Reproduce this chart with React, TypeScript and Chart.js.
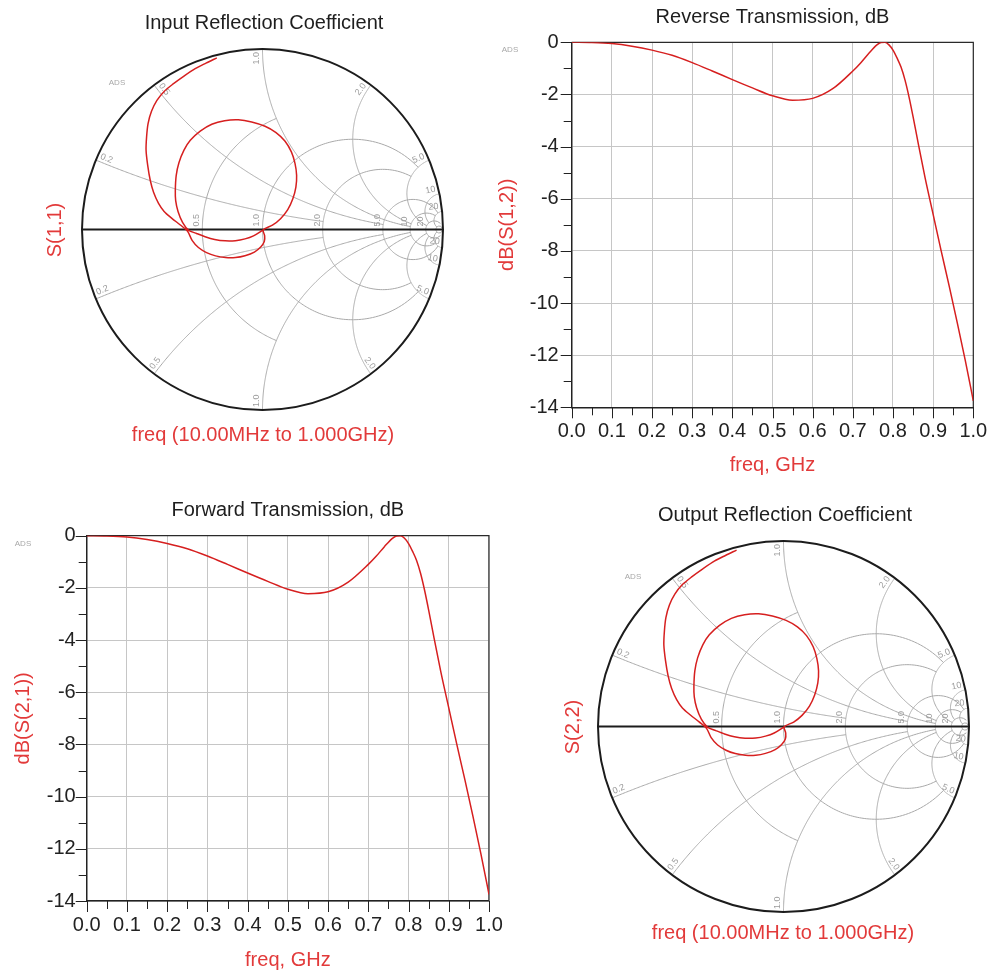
import React, { useEffect, useRef } from 'react';
import { Chart, registerables } from 'chart.js';

Chart.register(...registerables);

const FONT = '"Liberation Sans", Arial, sans-serif';
const RED_LINE = '#d61f1f';
const RED_TEXT = '#e23a3a';

// ---------------- data ----------------
const freqGHz = [0, 0.05, 0.1, 0.15, 0.2, 0.25, 0.3, 0.35, 0.4, 0.45, 0.5, 0.55, 0.6, 0.65, 0.7,
  0.72, 0.74, 0.76, 0.77, 0.78, 0.79, 0.8, 0.81, 0.82, 0.83, 0.84, 0.85, 0.86,
  0.88, 0.9, 0.92, 0.94, 0.96, 0.98, 1.0];

const s12dB = [0, -0.01, -0.05, -0.15, -0.3, -0.5, -0.78, -1.1, -1.43, -1.75, -2.05, -2.22, -2.15, -1.78, -1.1,
  -0.78, -0.42, -0.1, -0.01, 0, -0.1, -0.3, -0.6, -0.95, -1.45, -2.1, -2.85, -3.65,
  -5.2, -6.6, -8.0, -9.35, -10.75, -12.2, -13.75];

const s21dB = [0, -0.01, -0.05, -0.15, -0.3, -0.5, -0.78, -1.1, -1.43, -1.75, -2.05, -2.22, -2.15, -1.78, -1.1,
  -0.78, -0.42, -0.1, -0.01, 0, -0.1, -0.3, -0.6, -0.95, -1.45, -2.1, -2.85, -3.65,
  -5.2, -6.6, -8.0, -9.35, -10.75, -12.2, -13.75];

// reflection coefficient traces (real, imaginary), 10 MHz -> 1 GHz
const s11Re = [0.004, -0.05, -0.097, -0.15, -0.207, -0.265, -0.318, -0.365, -0.41, -0.443, -0.468, -0.481, -0.483, -0.478, -0.463, -0.435, -0.4, -0.345, -0.281, -0.21, -0.134, -0.06, 0.014, 0.075, 0.124, 0.16, 0.18, 0.189, 0.185, 0.168, 0.14, 0.1, 0.055, 0.004,
  0.012, 0.01, -0.01, -0.045, -0.097, -0.15, -0.205, -0.26, -0.31, -0.355, -0.39, -0.415,
  -0.455, -0.502, -0.545, -0.576, -0.603, -0.622, -0.636, -0.645, -0.642, -0.634, -0.615, -0.585, -0.545, -0.493, -0.435, -0.373, -0.313, -0.253];
const s11Im = [-0.002, -0.035, -0.052, -0.062, -0.063, -0.055, -0.04, -0.022, -0.003, 0.04, 0.1, 0.16, 0.218, 0.3, 0.37, 0.44, 0.494, 0.545, 0.583, 0.603, 0.608, 0.596, 0.572, 0.537, 0.49, 0.43, 0.366, 0.3, 0.235, 0.17, 0.11, 0.06, 0.024, -0.002,
  -0.035, -0.067, -0.097, -0.125, -0.145, -0.155, -0.155, -0.146, -0.128, -0.1, -0.06, -0.01,
  0.025, 0.062, 0.1, 0.145, 0.205, 0.273, 0.355, 0.439, 0.515, 0.587, 0.655, 0.715, 0.765, 0.808, 0.85, 0.891, 0.922, 0.951];

const s22Re = [0.004, -0.05, -0.097, -0.15, -0.207, -0.265, -0.318, -0.365, -0.41, -0.443, -0.468, -0.481, -0.483, -0.478, -0.463, -0.435, -0.4, -0.345, -0.281, -0.21, -0.134, -0.06, 0.014, 0.075, 0.124, 0.16, 0.18, 0.189, 0.185, 0.168, 0.14, 0.1, 0.055, 0.004,
  0.012, 0.01, -0.01, -0.045, -0.097, -0.15, -0.205, -0.26, -0.31, -0.355, -0.39, -0.415,
  -0.455, -0.502, -0.545, -0.576, -0.603, -0.622, -0.636, -0.645, -0.642, -0.634, -0.615, -0.585, -0.545, -0.493, -0.435, -0.373, -0.313, -0.253];
const s22Im = [-0.002, -0.035, -0.052, -0.062, -0.063, -0.055, -0.04, -0.022, -0.003, 0.04, 0.1, 0.16, 0.218, 0.3, 0.37, 0.44, 0.494, 0.545, 0.583, 0.603, 0.608, 0.596, 0.572, 0.537, 0.49, 0.43, 0.366, 0.3, 0.235, 0.17, 0.11, 0.06, 0.024, -0.002,
  -0.035, -0.067, -0.097, -0.125, -0.145, -0.155, -0.155, -0.146, -0.128, -0.1, -0.06, -0.01,
  0.025, 0.062, 0.1, 0.145, 0.205, 0.273, 0.355, 0.439, 0.515, 0.587, 0.655, 0.715, 0.765, 0.808, 0.85, 0.891, 0.922, 0.951];

const xTickValues = [0, 0.1, 0.2, 0.3, 0.4, 0.5, 0.6, 0.7, 0.8, 0.9, 1.0];
const xTickLabels = ['0.0', '0.1', '0.2', '0.3', '0.4', '0.5', '0.6', '0.7', '0.8', '0.9', '1.0'];
const yTickValues = [-14, -12, -10, -8, -6, -4, -2, 0];
const yTickLabels = ['-14', '-12', '-10', '-8', '-6', '-4', '-2', '0'];

// Smith chart grid: [value, clip limit]
const smithRCircles = [[0.5, 1], [1, 5], [2, 5], [5, 20], [10, 20], [20, 50], [50, Infinity]];
const smithXArcs = [[0.2, 2], [0.5, 5], [1, 10], [2, 10], [5, 20], [10, 20], [20, 50]];
const smithRLabels = [[0.5, '0.5'], [1, '1.0'], [2, '2.0'], [5, '5.0'], [10, '10'], [20, '20']];
const smithXLabels = [[0.2, '0.2'], [0.5, '0.5'], [1, '1.0'], [2, '2.0'], [5, '5.0'], [10, '10'], [20, '20']];

// ---------------- helpers ----------------
function gam(r: number, x: number) {
  const d = (r + 1) * (r + 1) + x * x;
  return [(r * r + x * x - 1) / d, (2 * x) / d];
}

function rectConfig(o: any) {
  const area = o.area;
  const yScaleLeft = o.yTitleX - 12;
  const yScaleWidth = area.l - yScaleLeft;
  const xScaleBottom = o.xTitleY + 12;
  const xScaleHeight = xScaleBottom - area.b;
  const decor = {
    id: 'rectDecor',
    beforeDatasetsDraw(chart: any) {
      const { ctx, chartArea: ca } = chart;
      ctx.save();
      ctx.strokeStyle = '#2a2a2a';
      ctx.lineWidth = 1.2;
      ctx.beginPath();
      ctx.moveTo(ca.left, ca.top);
      ctx.lineTo(ca.right, ca.top);
      ctx.lineTo(ca.right, ca.bottom);
      ctx.stroke();
      ctx.restore();
    },
    afterDraw(chart: any) {
      const { ctx, chartArea: ca, scales } = chart;
      ctx.save();
      ctx.strokeStyle = '#222';
      ctx.lineWidth = 1;
      ctx.beginPath();
      for (let v = -14; v <= 0; v += 1) {
        const py = Math.round(scales.y.getPixelForValue(v)) + 0.5;
        const len = v % 2 === 0 ? 11 : 8;
        ctx.moveTo(ca.left - len, py);
        ctx.lineTo(ca.left, py);
      }
      for (let i = 0; i <= 20; i++) {
        const px = Math.round(scales.x.getPixelForValue(i * 0.05)) + 0.5;
        const len = i % 2 === 0 ? 11 : 8;
        ctx.moveTo(px, ca.bottom);
        ctx.lineTo(px, ca.bottom + len);
      }
      ctx.stroke();
      ctx.fillStyle = '#1e1e1e';
      ctx.font = `20px ${FONT}`;
      ctx.textAlign = 'center';
      ctx.textBaseline = 'middle';
      ctx.fillText(o.title, (ca.left + ca.right) / 2, o.titleY);
      ctx.fillStyle = '#a8a8a8';
      ctx.font = `8px ${FONT}`;
      ctx.fillText('ADS', o.ads[0], o.ads[1]);
      ctx.restore();
    },
  };
  const tickFont = { family: FONT, size: 20 };
  const titleFont = { family: FONT, size: 20, lineHeight: 1.2 };
  return {
    type: 'scatter',
    data: {
      datasets: [{
        data: freqGHz.map((f, i) => ({ x: f, y: o.dB[i] })),
        showLine: true,
        borderColor: RED_LINE,
        borderWidth: 1.5,
        pointRadius: 0,
        cubicInterpolationMode: 'monotone',
        fill: false,
      }],
    },
    options: {
      responsive: false,
      animation: false,
      events: [],
      layout: { padding: { left: yScaleLeft, right: 990 - area.r, top: area.t, bottom: 975 - xScaleBottom } },
      plugins: { legend: { display: false }, tooltip: { enabled: false } },
      scales: {
        x: {
          type: 'linear', min: 0, max: 1,
          afterBuildTicks: (s: any) => { s.ticks = xTickValues.map((v) => ({ value: v })); },
          afterFit: (s: any) => { s.height = xScaleHeight; s.paddingLeft = 0; s.paddingRight = 0; },
          ticks: { callback: (_v: any, i: number) => xTickLabels[i], padding: o.xTickPad, color: '#222', font: tickFont, maxRotation: 0, autoSkip: false },
          grid: { color: '#c6c6c6', drawTicks: false, lineWidth: 1 },
          border: { display: true, color: '#222', width: 1.5 },
          title: { display: true, text: 'freq, GHz', color: RED_TEXT, font: titleFont, padding: 0 },
        },
        y: {
          type: 'linear', min: -14, max: 0,
          afterBuildTicks: (s: any) => { s.ticks = yTickValues.map((v) => ({ value: v })); },
          afterFit: (s: any) => { s.width = yScaleWidth; s.paddingTop = 0; s.paddingBottom = 0; },
          ticks: { callback: (_v: any, i: number) => yTickLabels[i], padding: o.yTickPad, color: '#222', font: tickFont, autoSkip: false },
          grid: { color: '#c6c6c6', drawTicks: false, lineWidth: 1 },
          border: { display: true, color: '#222', width: 1.5 },
          title: { display: true, text: o.yTitle, color: RED_TEXT, font: titleFont, padding: 0 },
        },
      },
    },
    plugins: [decor],
  };
}

function smithConfig(o: any) {
  const plugin = {
    id: 'smithGrid',
    beforeDatasetsDraw(chart: any) {
      const { ctx } = chart;
      const sx = chart.scales.x;
      const sy = chart.scales.y;
      const P = (gr: number, gi: number) => [sx.getPixelForValue(gr), sy.getPixelForValue(gi)];
      const N = 240;
      ctx.save();
      ctx.strokeStyle = '#a9a9a9';
      ctx.lineWidth = 1;
      for (const [r, xmax] of smithRCircles) {
        const a = Math.atan(xmax);
        ctx.beginPath();
        for (let k = 0; k <= N; k++) {
          const t = -a + (2 * a * k) / N;
          const [gr, gi] = gam(r, Math.tan(t));
          const [px, py] = P(gr, gi);
          if (k === 0) ctx.moveTo(px, py); else ctx.lineTo(px, py);
        }
        ctx.stroke();
      }
      for (const [xv, rmax] of smithXArcs) {
        for (const s of [1, -1]) {
          const a = Math.atan(rmax);
          ctx.beginPath();
          for (let k = 0; k <= N; k++) {
            const r = Math.tan((a * k) / N);
            const [gr, gi] = gam(r, s * xv);
            const [px, py] = P(gr, gi);
            if (k === 0) ctx.moveTo(px, py); else ctx.lineTo(px, py);
          }
          ctx.stroke();
        }
      }
      const [ox, oy] = P(0, 0);
      const rad = sx.getPixelForValue(1) - ox;
      // labels
      ctx.fillStyle = '#9c9c9c';
      ctx.font = `9px ${FONT}`;
      for (const [r, txt] of smithRLabels) {
        const [px] = P(((r as number) - 1) / ((r as number) + 1), 0);
        ctx.save();
        ctx.translate(px - 1, oy - 3);
        ctx.rotate(-Math.PI / 2);
        ctx.textAlign = 'left';
        ctx.textBaseline = 'bottom';
        ctx.fillText(txt, 0, 0);
        ctx.restore();
      }
      for (const [xv, txt] of smithXLabels) {
        for (const s of [1, -1]) {
          const [gr, gi] = gam(0, s * (xv as number));
          const [px, py] = P(gr, gi);
          const dx = (ox - px) / rad;
          const dy = (oy - py) / rad;
          let th = Math.atan2(dy, dx);
          if (th >= Math.PI / 2 - 1e-6) th -= Math.PI;
          if (th < -Math.PI / 2 - 1e-6) th += Math.PI;
          const w = ctx.measureText(txt).width;
          const mx = px + dx * (3 + w / 2);
          const my = py + dy * (3 + w / 2);
          ctx.save();
          ctx.translate(mx, my);
          ctx.rotate(th);
          ctx.textAlign = 'center';
          ctx.textBaseline = 'bottom';
          ctx.fillText(txt, 0, -1);
          ctx.restore();
        }
      }
      // outer circle & real axis
      ctx.strokeStyle = '#1c1c1c';
      ctx.lineWidth = 2;
      ctx.beginPath();
      ctx.arc(ox, oy, rad, 0, Math.PI * 2);
      ctx.stroke();
      ctx.beginPath();
      ctx.moveTo(ox - rad, oy);
      ctx.lineTo(ox + rad, oy);
      ctx.stroke();
      ctx.restore();
    },
    afterDraw(chart: any) {
      const { ctx } = chart;
      ctx.save();
      ctx.textAlign = 'center';
      ctx.textBaseline = 'middle';
      ctx.fillStyle = '#1e1e1e';
      ctx.font = `20px ${FONT}`;
      ctx.fillText(o.title, o.titleXY[0], o.titleXY[1]);
      ctx.fillStyle = RED_TEXT;
      ctx.fillText(o.xLabel, o.xLabelXY[0], o.xLabelXY[1]);
      ctx.save();
      ctx.translate(o.yLabelXY[0], o.yLabelXY[1]);
      ctx.rotate(-Math.PI / 2);
      ctx.fillText(o.yLabel, 0, 0);
      ctx.restore();
      ctx.fillStyle = '#a8a8a8';
      ctx.font = `8px ${FONT}`;
      ctx.fillText('ADS', o.ads[0], o.ads[1]);
      ctx.restore();
    },
  };
  return {
    type: 'scatter',
    data: {
      datasets: [{
        data: o.re.map((v: number, i: number) => ({ x: v, y: o.im[i] })),
        showLine: true,
        borderColor: RED_LINE,
        borderWidth: 1.5,
        pointRadius: 0,
        tension: 0.3,
        fill: false,
      }],
    },
    options: {
      responsive: false,
      animation: false,
      events: [],
      layout: { padding: { left: o.cx - o.R, right: 990 - (o.cx + o.R), top: o.cy - o.R, bottom: 975 - (o.cy + o.R) } },
      plugins: { legend: { display: false }, tooltip: { enabled: false } },
      scales: {
        x: { type: 'linear', min: -1, max: 1, display: false },
        y: { type: 'linear', min: -1, max: 1, display: false },
      },
    },
    plugins: [plugin],
  };
}

export default function App() {
  const c1 = useRef<HTMLCanvasElement>(null);
  const c2 = useRef<HTMLCanvasElement>(null);
  const c3 = useRef<HTMLCanvasElement>(null);
  const c4 = useRef<HTMLCanvasElement>(null);

  useEffect(() => {
    const charts: Chart[] = [];
    charts.push(new Chart(c1.current as any, smithConfig({
      re: s11Re, im: s11Im, cx: 262.5, cy: 229.5, R: 180.5,
      title: 'Input Reflection Coefficient', titleXY: [264, 23],
      yLabel: 'S(1,1)', yLabelXY: [55, 230],
      xLabel: 'freq (10.00MHz to 1.000GHz)', xLabelXY: [263, 435],
      ads: [117, 83],
    }) as any));
    charts.push(new Chart(c2.current as any, rectConfig({
      dB: s12dB, title: 'Reverse Transmission, dB', yTitle: 'dB(S(1,2))',
      area: { l: 571.7, r: 973.3, t: 42.3, b: 407.3 },
      yTitleX: 507, xTitleY: 465, titleY: 17, ads: [510, 50], yTickPad: 13, xTickPad: 12,
    }) as any));
    charts.push(new Chart(c3.current as any, rectConfig({
      dB: s21dB, title: 'Forward Transmission, dB', yTitle: 'dB(S(2,1))',
      area: { l: 86.7, r: 489, t: 535.7, b: 901 },
      yTitleX: 23, xTitleY: 960, titleY: 510, ads: [23, 544], yTickPad: 11, xTickPad: 12,
    }) as any));
    charts.push(new Chart(c4.current as any, smithConfig({
      re: s22Re, im: s22Im, cx: 783.5, cy: 726.5, R: 185.5,
      title: 'Output Reflection Coefficient', titleXY: [785, 515],
      yLabel: 'S(2,2)', yLabelXY: [573, 727],
      xLabel: 'freq (10.00MHz to 1.000GHz)', xLabelXY: [783, 933],
      ads: [633, 577],
    }) as any));
    return () => charts.forEach((c) => c.destroy());
  }, []);

  const cs: React.CSSProperties = { position: 'absolute', left: 0, top: 0, width: 990, height: 975 };
  return (
    <div style={{ position: 'absolute', left: 0, top: 0, width: 990, height: 975, background: '#fff' }}>
      <canvas ref={c1} width={990} height={975} style={cs} />
      <canvas ref={c2} width={990} height={975} style={cs} />
      <canvas ref={c3} width={990} height={975} style={cs} />
      <canvas ref={c4} width={990} height={975} style={cs} />
    </div>
  );
}
